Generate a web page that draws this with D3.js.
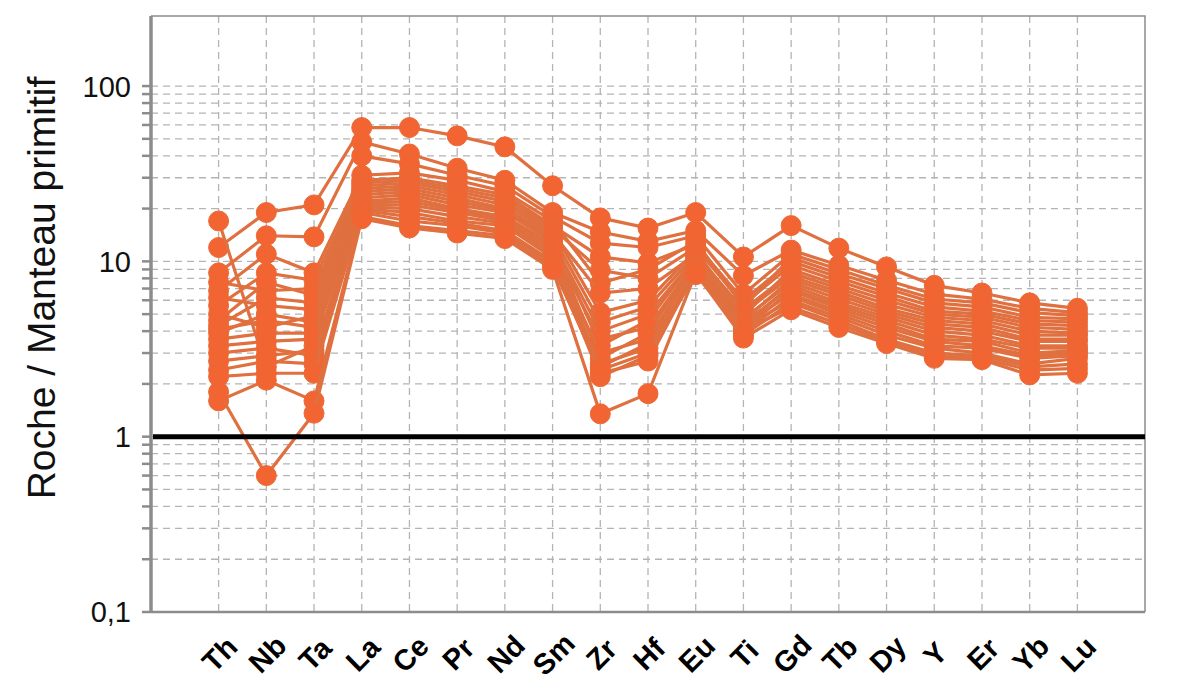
<!DOCTYPE html>
<html>
<head>
<meta charset="utf-8">
<script src="https://cdn.jsdelivr.net/npm/d3@7"></script>
<style>
  body { margin: 0; background: #fff; }
  svg { display: block; }
</style>
</head>
<body>
<svg></svg>
<script>
// Dimensions
const width = 1187;
const height = 693;

// Éléments (axe X)
const elements = ["Th", "Nb", "Ta", "La", "Ce", "Pr", "Nd", "Sm", "Zr", "Hf",
                  "Eu", "Ti", "Gd", "Tb", "Dy", "Y", "Er", "Yb", "Lu"];

// Graduations de l'axe Y
const yMajorTicks = [0.1, 1, 10, 100];
const yMajorLabels = ["0,1", "1", "10", "100"];

// Échantillons normalisés au manteau primitif (un tableau par échantillon)
const samples = [
    [12, 19, 21, 58, 58, 52, 45, 27, 17.7, 15.5, 19, 10.6, 16, 11.9, 9.3, 7.3, 6.6, 5.8, 5.4],
    [8.6, 14, 13.8, 48, 41, 34, 29, 19, 14.7, 13, 15, 8.3, 11.6, 9.5, 7.8, 6.5, 6.1, 5.4, 5.1],
    [17, 2.5, 3.3, 40, 36, 31, 27, 18, 12.7, 12, 14, 6.5, 11, 9, 7.3, 6.1, 5.8, 5.1, 4.9],
    [6.8, 11, 8.6, 31, 32, 29, 25, 17, 7.5, 9, 13, 5.5, 10.5, 8.5, 7, 5.8, 5.5, 4.8, 4.7],
    [5.6, 8.6, 7.8, 29, 30, 27, 24, 16, 10.6, 9.8, 12.5, 6, 10, 8.1, 6.6, 5.5, 5.2, 4.6, 4.5],
    [7.6, 6.8, 7, 28, 29, 26, 23, 15.5, 8.9, 8, 12, 5.7, 9.5, 7.7, 6.3, 5.2, 5, 4.4, 4.3],
    [4.6, 7.6, 6.4, 27, 28, 25, 22, 15, 5.1, 6, 11.5, 4.9, 9, 7.3, 6, 5, 4.8, 4.2, 4.1],
    [4.3, 6.2, 5.8, 26, 27, 24, 21, 14.5, 6.6, 7, 11, 5.3, 8.6, 7, 5.7, 4.8, 4.6, 4, 3.9],
    [6.2, 5.6, 5.3, 25, 26, 23, 20, 14, 4.5, 5.5, 11, 5.1, 8.2, 6.7, 5.4, 4.6, 4.4, 3.8, 3.8],
    [5, 4.2, 4.9, 24, 25, 22, 19.5, 13.5, 3.3, 4.6, 10.5, 4.6, 7.9, 6.4, 5.2, 4.4, 4.2, 3.6, 3.6],
    [3.9, 5, 4.5, 23, 24, 21, 19, 13, 4, 5, 10.5, 4.7, 7.6, 6.1, 5, 4.2, 4, 3.5, 3.5],
    [4.1, 4.6, 4.2, 22, 23, 20, 18, 12.5, 2.8, 3.9, 10, 4.3, 7.3, 5.8, 4.8, 4, 3.8, 3.3, 3.3],
    [3.6, 3.9, 3.9, 21.5, 22, 19.5, 17.5, 12, 3.6, 4.2, 10, 4.5, 7, 5.6, 4.6, 3.8, 3.6, 3.2, 3.2],
    [3.3, 3.5, 3.6, 21, 21, 19, 17, 11.5, 2.5, 3.4, 9.8, 4.1, 6.8, 5.4, 4.4, 3.6, 3.5, 3, 3.1],
    [3, 3.2, 2.9, 20.5, 20, 18, 16.5, 11, 3, 3.6, 9.5, 4.4, 6.5, 5.2, 4.2, 3.5, 3.3, 2.9, 3],
    [2.7, 2.9, 3.1, 20, 19, 17, 16, 10.5, 2.2, 2.9, 9.3, 3.9, 6.3, 5, 4, 3.3, 3.2, 2.8, 2.9],
    [2.4, 2.7, 2.6, 19.5, 18, 16.5, 15, 10, 2.6, 3.2, 9, 4.2, 6, 4.8, 3.8, 3.2, 3, 2.6, 2.8],
    [2.2, 2.3, 2.3, 19, 17, 16, 14.5, 9.7, 2.3, 2.7, 8.8, 3.8, 5.8, 4.6, 3.6, 3, 2.9, 2.5, 2.6],
    [1.6, 2.1, 1.6, 18, 16, 15, 14, 9.3, 2.4, 3, 8.4, 4, 5.5, 4.4, 3.5, 2.9, 2.8, 2.4, 2.45],
    [1.8, 0.6, 1.36, 17.5, 15.5, 14.5, 13.5, 9, 1.35, 1.76, 8.6, 3.65, 5.3, 4.2, 3.4, 2.8, 2.75, 2.25, 2.3]
];

// Zone de tracé
const plot = { left: 151, right: 1145, top: 16, bottom: 612 };

const svg = d3.select("svg")
    .attr("width", width)
    .attr("height", height)
    .style("font-family", "'Liberation Sans', Arial, sans-serif");

const x = d3.scalePoint()
    .domain(elements)
    .range([plot.left, plot.right])
    .padding(1.417);

const y = d3.scaleLog()
    .domain([0.1, 251])
    .range([plot.bottom, plot.top]);

// Valeurs des lignes secondaires (0,1 à 100)
const gridValues = [];
[0.1, 1, 10].forEach(d => {
    for (let k = 1; k <= 9; k++) gridValues.push(+(d * k).toPrecision(3));
});
gridValues.push(100);

const grid = svg.append("g").attr("class", "grid");

// Grille horizontale
grid.selectAll(".hgrid")
    .data(gridValues)
    .enter()
    .append("line")
    .attr("class", "hgrid")
    .attr("x1", plot.left)
    .attr("x2", plot.right)
    .attr("y1", d => y(d))
    .attr("y2", d => y(d))
    .attr("stroke", "#b4b4b4")
    .attr("stroke-width", 1.3)
    .attr("stroke-dasharray", "7,5");

// Grille verticale
grid.selectAll(".vgrid")
    .data(elements)
    .enter()
    .append("line")
    .attr("class", "vgrid")
    .attr("x1", d => x(d))
    .attr("x2", d => x(d))
    .attr("y1", plot.top)
    .attr("y2", plot.bottom)
    .attr("stroke", "#b4b4b4")
    .attr("stroke-width", 1.3)
    .attr("stroke-dasharray", "7,5");

// Cadre haut et droit
svg.append("path")
    .attr("d", `M${plot.left},${plot.top}H${plot.right}V${plot.bottom}`)
    .attr("fill", "none")
    .attr("stroke", "#8c8c8c")
    .attr("stroke-width", 1.5);

// Axe X
svg.append("line")
    .attr("x1", plot.left).attr("x2", plot.right)
    .attr("y1", plot.bottom).attr("y2", plot.bottom)
    .attr("stroke", "#8c8c8c")
    .attr("stroke-width", 2.5);

// Axe Y : petites graduations
svg.selectAll(".ytick")
    .data(gridValues)
    .enter()
    .append("line")
    .attr("class", "ytick")
    .attr("x1", plot.left - 9)
    .attr("x2", plot.left)
    .attr("y1", d => y(d))
    .attr("y2", d => y(d))
    .attr("stroke", "#8c8c8c")
    .attr("stroke-width", 2.5);

svg.append("line")
    .attr("x1", plot.left).attr("x2", plot.left)
    .attr("y1", plot.top).attr("y2", plot.bottom + 1)
    .attr("stroke", "#8c8c8c")
    .attr("stroke-width", 3.5);

svg.selectAll(".ylabel")
    .data(yMajorTicks)
    .enter()
    .append("text")
    .attr("class", "ylabel")
    .attr("x", 131)
    .attr("y", d => y(d))
    .attr("dy", "0.36em")
    .attr("text-anchor", "end")
    .attr("font-size", 29)
    .attr("fill", "#111")
    .text((d, i) => yMajorLabels[i]);

// Titre de l'axe Y
svg.append("text")
    .attr("transform", "translate(55,288) rotate(-90)")
    .attr("text-anchor", "middle")
    .attr("font-size", 39)
    .attr("fill", "#111")
    .text("Roche / Manteau primitif");

// Étiquettes X inclinées
svg.selectAll(".xlabel")
    .data(elements)
    .enter()
    .append("text")
    .attr("class", "xlabel")
    .attr("transform", d => `translate(${x(d) + 1},${654}) rotate(-45)`)
    .attr("text-anchor", "middle")
    .attr("dy", "0.35em")
    .attr("font-size", 29)
    .attr("font-weight", "bold")
    .attr("fill", "#000")
    .text(d => d);

// Séries
const line = d3.line()
    .x((d, i) => x(elements[i]))
    .y(d => y(d));

const series = svg.selectAll(".series")
    .data(samples)
    .enter()
    .append("g")
    .attr("class", "series");

series.append("path")
    .attr("d", line)
    .attr("fill", "none")
    .attr("stroke", "#e0703f")
    .attr("stroke-width", 3.2);

series.selectAll("circle")
    .data(d => d)
    .enter()
    .append("circle")
    .attr("cx", (d, i) => x(elements[i]))
    .attr("cy", d => y(d))
    .attr("r", 10)
    .attr("fill", "#f26431")
    .attr("stroke", "#ea6a38")
    .attr("stroke-width", 1);

// Ligne de référence à 1
svg.append("line")
    .attr("x1", plot.left + 2).attr("x2", plot.right)
    .attr("y1", y(1)).attr("y2", y(1))
    .attr("stroke", "#000")
    .attr("stroke-width", 5);
</script>
</body>
</html>
